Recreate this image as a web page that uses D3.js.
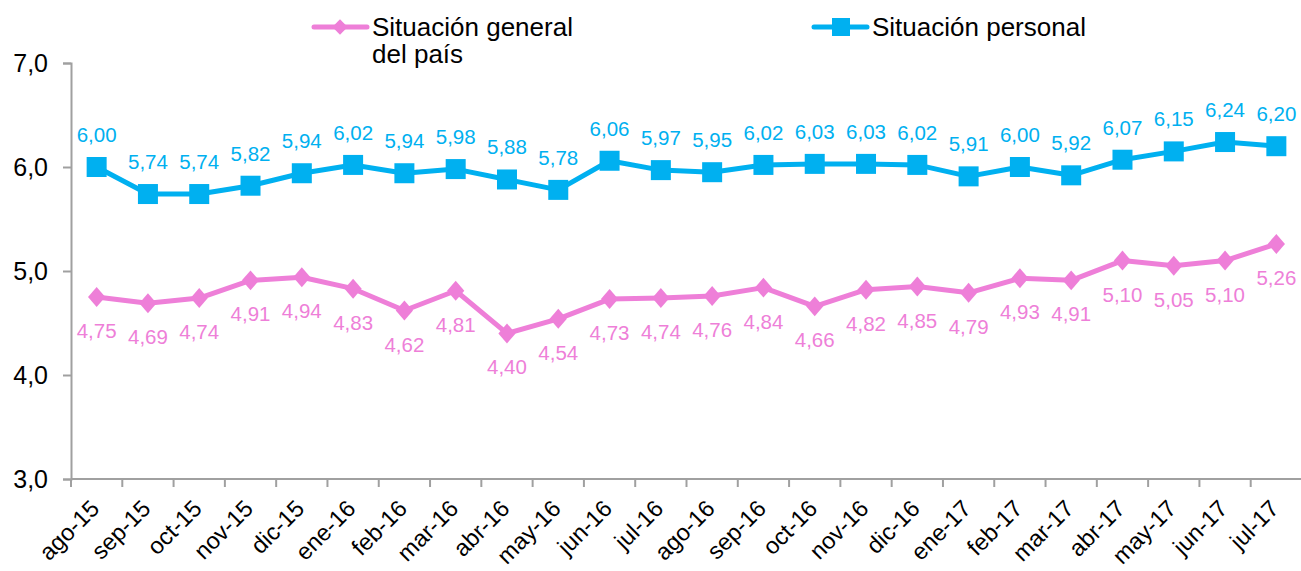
<!DOCTYPE html>
<html>
<head>
<meta charset="utf-8">
<script src="https://cdn.jsdelivr.net/npm/d3@7"></script>
<style>
  body { margin: 0; background: #fff; }
  text { font-family: "Liberation Sans", Arial, sans-serif; }
</style>
</head>
<body>
<svg id="chart" width="1301" height="571"></svg>
<script>
var months = ['ago-15', 'sep-15', 'oct-15', 'nov-15', 'dic-15', 'ene-16', 'feb-16', 'mar-16',
  'abr-16', 'may-16', 'jun-16', 'jul-16', 'ago-16', 'sep-16', 'oct-16', 'nov-16', 'dic-16',
  'ene-17', 'feb-17', 'mar-17', 'abr-17', 'may-17', 'jun-17', 'jul-17'];
var generalPais = [4.75, 4.69, 4.74, 4.91, 4.94, 4.83, 4.62, 4.81, 4.40, 4.54, 4.73, 4.74,
  4.76, 4.84, 4.66, 4.82, 4.85, 4.79, 4.93, 4.91, 5.10, 5.05, 5.10, 5.26];
var personal = [6.00, 5.74, 5.74, 5.82, 5.94, 6.02, 5.94, 5.98, 5.88, 5.78, 6.06, 5.97,
  5.95, 6.02, 6.03, 6.03, 6.02, 5.91, 6.00, 5.92, 6.07, 6.15, 6.24, 6.20];
var yTicks = [3, 4, 5, 6, 7];

var pink = '#ee7fd8';
var blue = '#00b0f0';
var axisColor = '#a0a0a0';

var svg = d3.select('#chart');
var fmt = function(v, d) { return v.toFixed(d).replace('.', ','); };

var x = d3.scaleBand().domain(months).range([71, 1302]);
var y = d3.scaleLinear().domain([3, 7]).range([479, 63]);
var cx = function(i) { return x(months[i]) + x.bandwidth() / 2; };

// y axis
var yAxis = svg.append('g')
  .attr('transform', 'translate(71,0)')
  .call(d3.axisLeft(y).tickValues(yTicks).tickSize(8).tickFormat(function(d) { return fmt(d, 1); }));
yAxis.select('.domain').attr('stroke', axisColor).attr('stroke-width', 2);
yAxis.selectAll('.tick line').attr('stroke', axisColor).attr('stroke-width', 2);
yAxis.selectAll('.tick text')
  .attr('x', -23).attr('fill', '#000')
  .style('font-size', '25px');

// x axis, ticks on category boundaries
var xAxis = svg.append('g').attr('transform', 'translate(0,479)');
xAxis.append('line')
  .attr('x1', 71).attr('x2', 1301)
  .attr('stroke', axisColor).attr('stroke-width', 2);
xAxis.selectAll('line.tk')
  .data(months)
  .enter().append('line')
  .attr('class', 'tk')
  .attr('x1', function(d) { return x(d); })
  .attr('x2', function(d) { return x(d); })
  .attr('y1', 0).attr('y2', 8)
  .attr('stroke', axisColor).attr('stroke-width', 2);
xAxis.selectAll('text')
  .data(months)
  .enter().append('text')
  .attr('text-anchor', 'end')
  .attr('transform', function(d) {
    return 'translate(' + (x(d) + x.bandwidth() / 2 + 4) + ',' + 31 + ') rotate(-45)';
  })
  .style('font-size', '23.5px')
  .attr('fill', '#000')
  .text(function(d) { return d; });

var line = d3.line()
  .x(function(d, i) { return cx(i); })
  .y(function(d) { return y(d); });

// series: situacion personal
svg.append('path')
  .datum(personal)
  .attr('d', line)
  .attr('fill', 'none')
  .attr('stroke', blue)
  .attr('stroke-width', 5)
  .attr('stroke-linejoin', 'round');
svg.selectAll('rect.pt')
  .data(personal)
  .enter().append('rect')
  .attr('class', 'pt')
  .attr('x', function(d, i) { return cx(i) - 10; })
  .attr('y', function(d) { return y(d) - 10; })
  .attr('width', 20).attr('height', 20)
  .attr('fill', blue);
svg.selectAll('text.lblb')
  .data(personal)
  .enter().append('text')
  .attr('class', 'lblb')
  .attr('x', function(d, i) { return cx(i); })
  .attr('y', function(d) { return y(d) - 25; })
  .attr('text-anchor', 'middle')
  .attr('fill', blue)
  .style('font-size', '20.5px')
  .text(function(d) { return fmt(d, 2); });

// series: situacion general del pais
svg.append('path')
  .datum(generalPais)
  .attr('d', line)
  .attr('fill', 'none')
  .attr('stroke', pink)
  .attr('stroke-width', 5)
  .attr('stroke-linejoin', 'round');
var diamond = d3.symbol().type(d3.symbolDiamond2).size(210);
svg.selectAll('path.dm')
  .data(generalPais)
  .enter().append('path')
  .attr('class', 'dm')
  .attr('d', diamond)
  .attr('transform', function(d, i) { return 'translate(' + cx(i) + ',' + y(d) + ') scale(0.95,1.1)'; })
  .attr('fill', pink);
svg.selectAll('text.lblp')
  .data(generalPais)
  .enter().append('text')
  .attr('class', 'lblp')
  .attr('x', function(d, i) { return cx(i); })
  .attr('y', function(d) { return y(d) + 41; })
  .attr('text-anchor', 'middle')
  .attr('fill', pink)
  .style('font-size', '20.5px')
  .text(function(d) { return fmt(d, 2); });

// legend
var legend = [
  { x: 312, color: pink, lines: ['Situación general', 'del país'], shape: 'diamond' },
  { x: 812, color: blue, lines: ['Situación personal'], shape: 'square' }
];
legend.forEach(function(l) {
  var g = svg.append('g').attr('transform', 'translate(' + l.x + ',27)');
  g.append('line').attr('x1', 2).attr('x2', 55)
    .attr('stroke', l.color).attr('stroke-width', 5).attr('stroke-linecap', 'round');
  if (l.shape === 'diamond') {
    g.append('path').attr('d', d3.symbol().type(d3.symbolDiamond2).size(150))
      .attr('transform', 'translate(28,0)').attr('fill', l.color);
  } else {
    g.append('rect').attr('x', 20).attr('y', -9).attr('width', 18).attr('height', 18)
      .attr('fill', l.color);
  }
  var t = g.append('text').attr('x', 60).attr('y', 9)
    .attr('fill', '#000').style('font-size', '26px');
  l.lines.forEach(function(s, i) {
    t.append('tspan').attr('x', 60).attr('dy', i === 0 ? 0 : 27).text(s);
  });
});
</script>
</body>
</html>
